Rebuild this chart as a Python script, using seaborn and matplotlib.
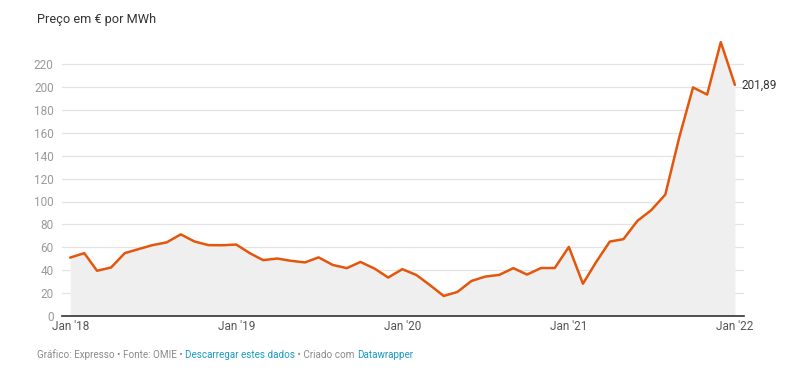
import pandas as pd
import seaborn as sns
import matplotlib.pyplot as plt

# Monthly electricity price (OMIE, Portugal), Jan 2018 - Jan 2022
months = pd.date_range("2018-01-01", "2022-01-01", freq="MS")
prices = [
    51.0, 54.9, 39.5, 42.4, 54.9, 58.5, 61.9, 64.3, 71.3, 65.1, 61.9, 61.8,
    62.4, 54.6, 48.8, 50.2, 48.2, 46.8, 51.2, 44.6, 41.8, 47.2, 41.4, 33.6,
    40.9, 35.8, 27.2, 17.5, 21.0, 30.6, 34.4, 35.9, 41.8, 36.2, 41.9, 41.9,
    60.3, 28.2, 46.5, 65.0, 67.1, 83.2, 92.4, 106.0, 156.5, 199.6, 193.4, 239.2,
    201.89,
]
tick_dates = pd.to_datetime(["2018-01-01", "2019-01-01", "2020-01-01", "2021-01-01", "2022-01-01"])
tick_labels = ["Jan '18", "Jan '19", "Jan '20", "Jan '21", "Jan '22"]
y_ticks = list(range(0, 221, 20))

df = pd.DataFrame({"month": months, "price": prices})

sns.set_style("white")
plt.rcParams["font.family"] = ["Roboto", "DejaVu Sans"]

line_color = "#e4560c"

fig = plt.figure(figsize=(7.9, 3.79), dpi=100)
ax = fig.add_axes([62 / 790, 63 / 379, 682 / 790, 274.8 / 379])

ax.fill_between(df["month"], df["price"], 0, color="#efefef", lw=0, zorder=1)
sns.lineplot(data=df, x="month", y="price", color=line_color, lw=1.8, ax=ax, zorder=3)

ax.set_xlim(months[0] - pd.Timedelta(days=18), months[-1] + pd.Timedelta(days=20))
ax.set_ylim(0, 240)

ax.set_yticks(y_ticks)
ax.set_yticklabels([str(v) for v in y_ticks], color="#9a9a9a", fontsize=8.5)
ax.set_xticks(tick_dates)
ax.set_xticklabels(tick_labels, color="#555555", fontsize=8.5)
ax.tick_params(axis="both", length=0)
ax.tick_params(axis="y", pad=6)
ax.tick_params(axis="x", pad=3)

ax.grid(axis="y", color="#e3e3e3", lw=0.9, zorder=0)
ax.set_axisbelow(True)
for side in ["top", "right", "left"]:
    ax.spines[side].set_visible(False)
ax.spines["bottom"].set_color("#333333")
ax.spines["bottom"].set_linewidth(1.2)
ax.set_xlabel("")
ax.set_ylabel("")

# end value label
ax.annotate("201,89", xy=(months[-1], prices[-1]), xytext=(5, 0), textcoords="offset points",
            va="center", ha="left", fontsize=8.5, color="#333333")

# title
fig.text(37 / 790, 1 - 20 / 379, "Preço em € por MWh", fontsize=9.2, color="#333333", va="center")

# footer
gray = "#8a8a8a"
blue = "#1a9cc4"
parts = [
    ("Gráfico: Expresso • Fonte: OMIE • ", gray),
    ("Descarregar estes dados", blue),
    (" • Criado com ", gray),
    ("Datawrapper", blue),
]
prev = fig.text(37 / 790, 1 - 358 / 379, parts[0][0], fontsize=7.15, color=parts[0][1], va="baseline")
for txt, col in parts[1:]:
    prev = ax.annotate(txt, xy=(1, 0), xycoords=prev, va="bottom", ha="left",
                       fontsize=7.15, color=col, annotation_clip=False)

fig.savefig("out.png", dpi=100)
